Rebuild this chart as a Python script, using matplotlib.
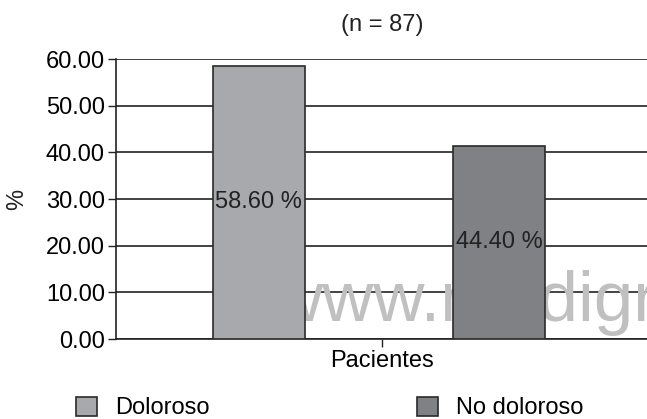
import numpy as np
import matplotlib as mpl
mpl.use('Agg')
import matplotlib.pyplot as plt

plt.rcParams['font.family'] = ['Liberation Sans', 'DejaVu Sans']

category = 'Pacientes'
series = ['Doloroso', 'No doloroso']
values = [58.6, 41.4]
value_labels = ['58.60 %', '44.40 %']
colors = ['#a8a9ac', '#808185']
yticks = [0, 10, 20, 30, 40, 50, 60]

fs = 17
fig = plt.figure(figsize=(6.47, 4.19), dpi=100)
ax = fig.add_axes([116/647, 80/419, 532/647, 280/419])

width = 0.173
offsets = [-0.232, 0.22]
bars = []
for off, v, c, lab, name in zip(offsets, values, colors, value_labels, series):
    b = ax.bar(off, v, width, color=c, edgecolor='#2a2a2a', linewidth=1.2,
               zorder=3, label=name)
    bars.append(b)
    ax.text(off, v / 2, lab, ha='center', va='center', fontsize=fs,
            color='#222222', zorder=4)

# watermark from the source image, sits behind the bars (cut at the right edge like the original)
ax.text((271 - 116)/532, (339 - 321)/280, 'www.medigr', transform=ax.transAxes,
        fontsize=51, color='#c0c0c0', ha='left', va='baseline',
        clip_on=True, zorder=2)

ax.set_xlim(-0.5, 0.5)
ax.set_ylim(0, 60)
ax.set_yticks(yticks)
ax.set_yticklabels(['%.2f' % t for t in yticks], fontsize=fs)
ax.set_xticks([0])
ax.set_xticklabels([category], fontsize=fs)
ax.tick_params(axis='x', length=6, width=1, pad=2, color='#222222')
ax.tick_params(axis='y', length=6, width=1, pad=2, color='#222222')
ax.yaxis.grid(True, color='#222222', linewidth=1.2, zorder=1)
ax.set_axisbelow(True)
for s in ['top', 'right']:
    ax.spines[s].set_visible(False)
for s in ['left', 'bottom']:
    ax.spines[s].set_color('#222222')
    ax.spines[s].set_linewidth(1.2)

fig.text(17/647, 1 - 199/419, '%', rotation=90, fontsize=fs,
         ha='center', va='center', color='#222222')
fig.text(382/647, 1 - 25/419, '(n = 87)', fontsize=fs,
         ha='center', va='center', color='#222222')

fig.legend(handles=bars, loc='center left', bbox_to_anchor=(76/647, 1 - 408/419),
           ncol=2, frameon=False, fontsize=fs, handlelength=0.89,
           handleheight=0.89, handletextpad=0.76, columnspacing=8.8,
           borderpad=0, borderaxespad=0)

fig.savefig('out.png', dpi=100)
